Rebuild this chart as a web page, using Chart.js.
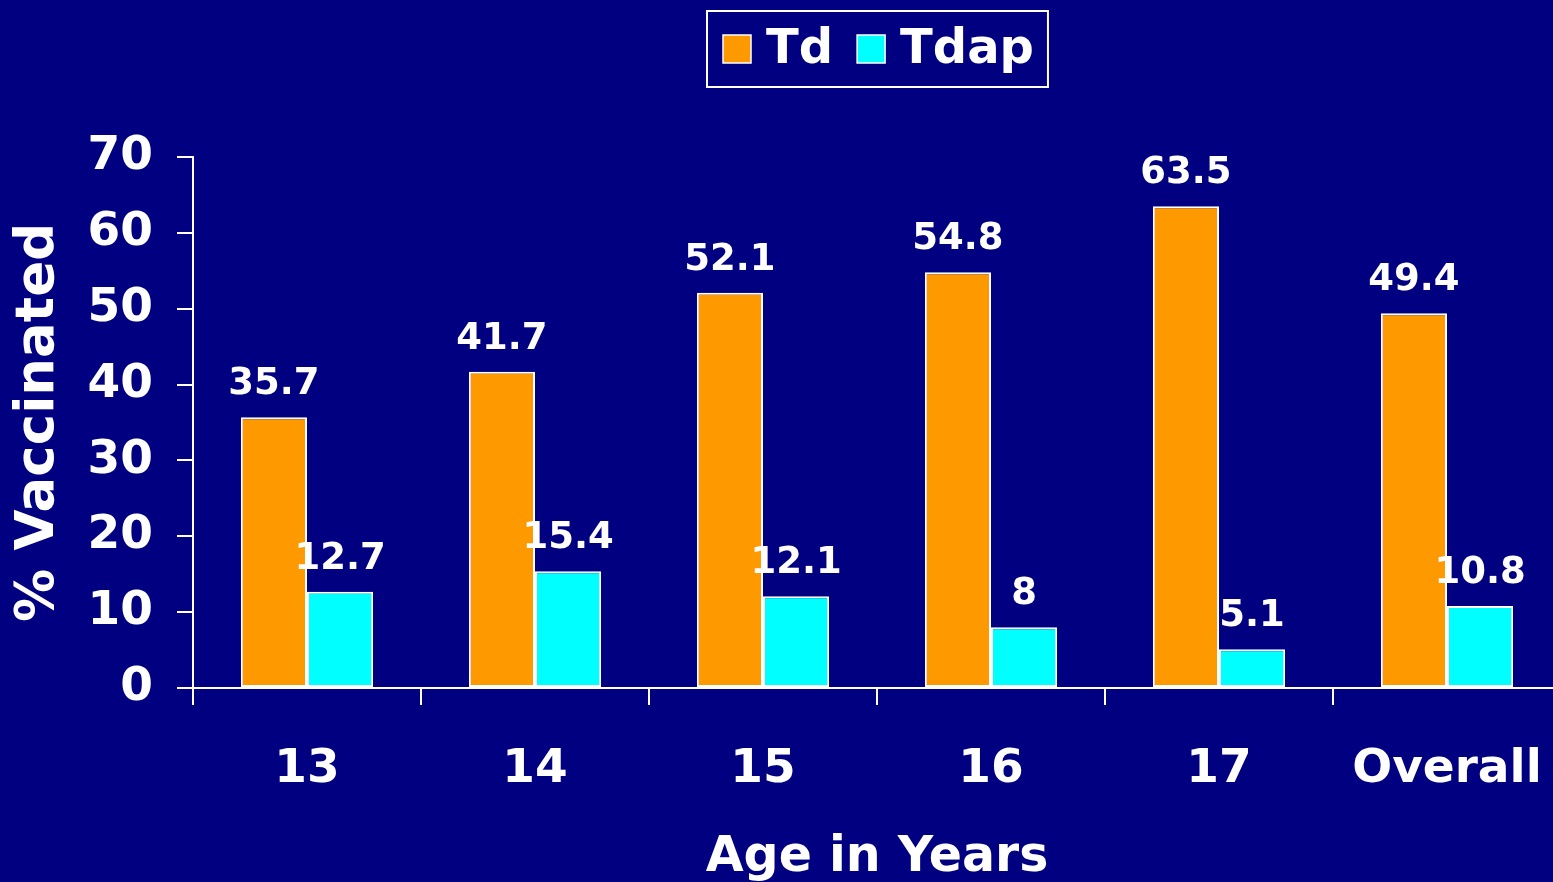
<!DOCTYPE html>
<html>
<head>
<meta charset="utf-8">
<title>Td / Tdap vaccination by age</title>
<script src="https://cdn.jsdelivr.net/npm/chart.js@4.4.1/dist/chart.umd.min.js"></script>
<style>
  html, body { margin: 0; padding: 0; background: #000080; overflow: hidden; }
  canvas { display: block; }
</style>
</head>
<body>
<canvas id="chart" width="1561" height="888"></canvas>
<script>
const ages = ["13", "14", "15", "16", "17", "Overall"];
const tdValues = [35.7, 41.7, 52.1, 54.8, 63.5, 49.4];
const tdapValues = [12.7, 15.4, 12.1, 8, 5.1, 10.8];
const yTicks = [0, 10, 20, 30, 40, 50, 60, 70];

const FONT = "'DejaVu Sans', Verdana, sans-serif";
Chart.defaults.font.family = FONT;
Chart.defaults.font.weight = "bold";
Chart.defaults.color = "#ffffff";

// value labels above each bar
const barLabels = {
  id: "barLabels",
  afterDatasetsDraw(chart) {
    const ctx = chart.ctx;
    ctx.save();
    ctx.fillStyle = "#ffffff";
    ctx.font = "bold 37px " + FONT;
    ctx.textAlign = "center";
    ctx.textBaseline = "alphabetic";
    chart.data.datasets.forEach((ds, i) => {
      chart.getDatasetMeta(i).data.forEach((bar, j) => {
        ctx.fillText(String(ds.data[j]), bar.x, bar.y - 23);
      });
    });
    ctx.restore();
  },
};

// boxed legend centred over the plot area
const boxLegend = {
  id: "boxLegend",
  afterDraw(chart) {
    const ctx = chart.ctx;
    const area = chart.chartArea;
    const sq = 28;
    const padL = 16, padR = 14, gapText = 15, gapItem = 24;
    ctx.save();
    ctx.font = "bold 48px " + FONT;
    const items = chart.data.datasets.map((ds) => ({
      label: ds.label,
      color: ds.backgroundColor,
      w: ctx.measureText(ds.label).width,
    }));
    let total = padL + padR;
    items.forEach((it, i) => {
      total += sq + gapText + it.w + (i > 0 ? gapItem : 0);
    });
    const boxH = 76;
    const cx = (area.left + area.right) / 2;
    const left = Math.round(cx - total / 2);
    const top = 11;
    const midY = top + boxH / 2;

    ctx.strokeStyle = "#ffffff";
    ctx.lineWidth = 2;
    ctx.strokeRect(left, top, total, boxH);

    let x = left + padL;
    items.forEach((it, i) => {
      if (i > 0) x += gapItem;
      ctx.fillStyle = it.color;
      ctx.fillRect(x, midY - sq / 2, sq, sq);
      ctx.lineWidth = 1.5;
      ctx.strokeRect(x, midY - sq / 2, sq, sq);
      x += sq + gapText;
      ctx.fillStyle = "#ffffff";
      ctx.textAlign = "left";
      ctx.textBaseline = "middle";
      ctx.fillText(it.label, x, midY + 2);
      x += it.w;
    });
    ctx.restore();
  },
};

new Chart(document.getElementById("chart"), {
  type: "bar",
  data: {
    labels: ages,
    datasets: [
      {
        label: "Td",
        data: tdValues,
        backgroundColor: "#ff9900",
        borderColor: "#ffffff",
        borderWidth: 2,
        borderSkipped: false,
      },
      {
        label: "Tdap",
        data: tdapValues,
        backgroundColor: "#00ffff",
        borderColor: "#ffffff",
        borderWidth: 2,
        borderSkipped: false,
      },
    ],
  },
  options: {
    responsive: false,
    animation: false,
    layout: { padding: { top: 157, left: 0, right: 0, bottom: 0 } },
    datasets: { bar: { categoryPercentage: 0.58, barPercentage: 1.0 } },
    plugins: {
      legend: { display: false },
      tooltip: { enabled: false },
    },
    scales: {
      x: {
        grid: {
          drawOnChartArea: false,
          drawTicks: true,
          tickLength: 17,
          color: "#ffffff",
          lineWidth: 2,
        },
        border: { color: "#ffffff", width: 2 },
        ticks: {
          color: "#ffffff",
          padding: 37,
          font: { size: 47, weight: "bold" },
        },
        title: {
          display: true,
          text: "Age in Years",
          color: "#ffffff",
          font: { size: 49, weight: "bold" },
          padding: { top: 0, bottom: 0 },
        },
        afterFit(scale) {
          scale.height = 200;
          // the axis runs to the edge, no room kept for the last label
          scale.paddingLeft = 0;
          scale.paddingRight = 0;
        },
      },
      y: {
        min: 0,
        max: 70,
        afterBuildTicks(scale) {
          scale.ticks = yTicks.map((v) => ({ value: v }));
        },
        grid: {
          drawOnChartArea: false,
          drawTicks: true,
          tickLength: 16,
          color: "#ffffff",
          lineWidth: 2,
        },
        border: { color: "#ffffff", width: 2 },
        ticks: {
          color: "#ffffff",
          padding: 24,
          font: { size: 47, weight: "bold" },
        },
        title: {
          display: true,
          text: "% Vaccinated",
          color: "#ffffff",
          font: { size: 53, weight: "bold" },
          padding: { top: 7, bottom: 0 },
        },
        afterFit(scale) {
          scale.width = 193;
        },
      },
    },
  },
  plugins: [barLabels, boxLegend],
});
</script>
</body>
</html>
